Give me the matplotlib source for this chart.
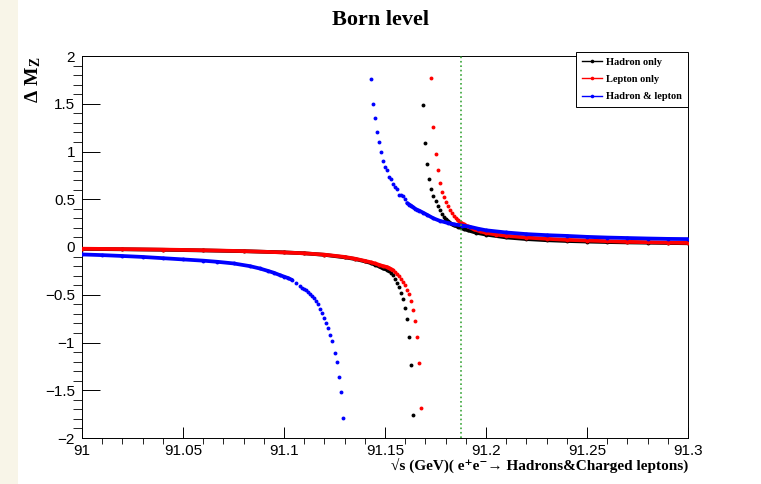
import matplotlib.pyplot as plt
from matplotlib.lines import Line2D
from matplotlib.patches import Rectangle
from matplotlib.ticker import MultipleLocator, FuncFormatter

# sqrt(s) in GeV and Delta M_Z
hadron_left_x = [91.000, 91.020, 91.040, 91.060, 91.080, 91.100, 91.110, 91.120, 91.130,
                 91.135, 91.140, 91.143, 91.145, 91.147, 91.149, 91.151, 91.152, 91.153,
                 91.154, 91.155, 91.156, 91.157, 91.158, 91.159, 91.160, 91.161, 91.162,
                 91.163, 91.164]
hadron_left_y = [-0.020, -0.024, -0.029, -0.036, -0.044, -0.056, -0.066, -0.082, -0.108,
                 -0.125, -0.150, -0.168, -0.185, -0.203, -0.225, -0.238, -0.252, -0.270,
                 -0.292, -0.330, -0.376, -0.424, -0.477, -0.544, -0.635, -0.758, -0.944,
                 -1.232, -1.758]
hadron_right_x = [91.169, 91.170, 91.171, 91.172, 91.173, 91.174, 91.175, 91.176, 91.177,
                  91.178, 91.179, 91.180, 91.181, 91.182, 91.183, 91.184, 91.186, 91.189,
                  91.191, 91.195, 91.200, 91.210, 91.220, 91.230, 91.240, 91.250, 91.260,
                  91.270, 91.280, 91.290, 91.300]
hadron_right_y = [1.484, 1.091, 0.870, 0.716, 0.607, 0.537, 0.477, 0.428, 0.386,
                  0.347, 0.316, 0.290, 0.272, 0.256, 0.240, 0.228, 0.212, 0.188,
                  0.175, 0.150, 0.130, 0.100, 0.083, 0.071, 0.063, 0.057, 0.052,
                  0.048, 0.045, 0.042, 0.039]

lepton_left_x = [91.000, 91.020, 91.040, 91.060, 91.080, 91.100, 91.110, 91.120, 91.130,
                 91.135, 91.140, 91.143, 91.145, 91.147, 91.149, 91.151, 91.152, 91.153,
                 91.154, 91.155, 91.156, 91.157, 91.158, 91.159, 91.160, 91.161, 91.162,
                 91.163, 91.164, 91.165, 91.166, 91.167, 91.168]
lepton_left_y = [-0.018, -0.022, -0.027, -0.034, -0.043, -0.057, -0.066, -0.080, -0.104,
                 -0.122, -0.145, -0.160, -0.172, -0.186, -0.200, -0.210, -0.220, -0.232,
                 -0.245, -0.262, -0.280, -0.300, -0.333, -0.368, -0.400, -0.449, -0.495,
                 -0.565, -0.660, -0.775, -0.940, -1.211, -1.681]
lepton_right_x = [91.173, 91.174, 91.175, 91.176, 91.177, 91.178, 91.179, 91.180, 91.181,
                  91.182, 91.183, 91.184, 91.185, 91.186, 91.187, 91.189, 91.191, 91.194,
                  91.197, 91.200, 91.205, 91.210, 91.220, 91.230, 91.240, 91.250, 91.260,
                  91.270, 91.280, 91.290, 91.300]
lepton_right_y = [1.765, 1.260, 0.975, 0.804, 0.674, 0.579, 0.519, 0.467, 0.425,
                  0.386, 0.351, 0.326, 0.301, 0.281, 0.263, 0.238, 0.215, 0.185,
                  0.165, 0.148, 0.130, 0.118, 0.099, 0.086, 0.075, 0.068, 0.061,
                  0.054, 0.050, 0.046, 0.042]

both_left_x = [91.000, 91.010, 91.020, 91.030, 91.040, 91.050, 91.060, 91.067, 91.075,
               91.083, 91.088, 91.092, 91.095, 91.098, 91.100, 91.102, 91.104, 91.106,
               91.108, 91.109, 91.110, 91.111, 91.112, 91.113, 91.114, 91.115, 91.116,
               91.117, 91.118, 91.119, 91.120, 91.121, 91.122, 91.123, 91.124, 91.125,
               91.126, 91.127, 91.128, 91.129]
both_left_y = [-0.078, -0.085, -0.094, -0.104, -0.117, -0.130, -0.143, -0.155, -0.172,
               -0.200, -0.225, -0.250, -0.270, -0.295, -0.310, -0.325, -0.345, -0.375,
               -0.405, -0.425, -0.440, -0.455, -0.470, -0.490, -0.510, -0.535, -0.565,
               -0.593, -0.646, -0.688, -0.740, -0.793, -0.849, -0.919, -0.986, -1.105,
               -1.207, -1.361, -1.523, -1.786]
both_right_x = [91.143, 91.144, 91.145, 91.146, 91.147, 91.148, 91.149, 91.150, 91.151,
                91.152, 91.153, 91.154, 91.155, 91.156, 91.157, 91.158, 91.159, 91.160,
                91.161, 91.162, 91.163, 91.164, 91.165, 91.166, 91.167, 91.169, 91.171,
                91.174, 91.177, 91.181, 91.184, 91.188, 91.192, 91.196, 91.200, 91.210,
                91.220, 91.230, 91.240, 91.250, 91.260, 91.270, 91.280, 91.290, 91.300]
both_right_y = [1.755, 1.502, 1.347, 1.200, 1.098, 0.997, 0.903, 0.839, 0.804,
                0.729, 0.712, 0.660, 0.632, 0.607, 0.544, 0.540, 0.537, 0.502,
                0.460, 0.445, 0.432, 0.414, 0.400, 0.389, 0.380, 0.358, 0.335,
                0.300, 0.275, 0.252, 0.238, 0.225, 0.212, 0.192, 0.175, 0.152,
                0.135, 0.124, 0.116, 0.106, 0.099, 0.094, 0.089, 0.085, 0.083]

mz = 91.1876

serif = ["Liberation Serif", "DejaVu Serif"]
plt.rcParams["font.family"] = ["Liberation Sans", "DejaVu Sans"]
plt.rcParams["mathtext.fontset"] = "custom"
plt.rcParams["mathtext.rm"] = "Liberation Serif:bold"
plt.rcParams["mathtext.it"] = "Liberation Serif:bold"
plt.rcParams["mathtext.bf"] = "Liberation Serif:bold"


def draw_branch(ax, xs, ys, color, cut, z):
    # dense part looks like a solid band, steep part as separate dots
    band = [(x, y) for x, y in zip(xs, ys) if abs(y) <= cut]
    ax.plot([p[0] for p in band], [p[1] for p in band], color=color, lw=2.7,
            solid_capstyle="round", zorder=z)
    ax.plot(xs, ys, ls="none", marker="o", ms=2.8, mew=0, mfc=color, zorder=z + 0.1)


fig = plt.figure(figsize=(7.61, 4.84), dpi=100)
# cream strip at the left edge of the screenshot
fig.patches.append(Rectangle((0, 0), 18 / 761, 1, transform=fig.transFigure,
                             facecolor="#f8f5e8", edgecolor="none", zorder=0))
ax = fig.add_axes([82 / 761, 1 - 438 / 484, 606 / 761, 382 / 484])

draw_branch(ax, hadron_left_x, hadron_left_y, "black", 0.26, 2)
draw_branch(ax, hadron_right_x, hadron_right_y, "black", 0.30, 2)
draw_branch(ax, lepton_left_x, lepton_left_y, "red", 0.26, 3)
draw_branch(ax, lepton_right_x, lepton_right_y, "red", 0.30, 3)
draw_branch(ax, both_left_x, both_left_y, "blue", 0.36, 4)
draw_branch(ax, both_right_x, both_right_y, "blue", 0.46, 4)

ax.axvline(mz, color="#3aa53a", ls=":", lw=1.2, zorder=5)

ax.set_xlim(91.0, 91.3)
ax.set_ylim(-2, 2)
ax.xaxis.set_major_locator(MultipleLocator(0.05))
ax.xaxis.set_minor_locator(MultipleLocator(0.01))
ax.yaxis.set_major_locator(MultipleLocator(0.5))
ax.yaxis.set_minor_locator(MultipleLocator(0.1))
ax.xaxis.set_major_formatter(FuncFormatter(lambda v, p: f"{v:g}"))
ax.yaxis.set_major_formatter(FuncFormatter(lambda v, p: f"{v:g}".replace("-", "\u2212")))
ax.tick_params(axis="both", direction="in", labelsize=11, width=0.7, colors="black")
ax.tick_params(axis="y", which="major", length=13, pad=5)
ax.tick_params(axis="y", which="minor", length=6.5)
ax.tick_params(axis="x", which="major", length=8, pad=4)
ax.tick_params(axis="x", which="minor", length=4)
for s in ax.spines.values():
    s.set_linewidth(0.7)

fig.text(381 / 761, 1 - 20 / 484, "Born level", family=serif, weight="bold",
         fontsize=16, ha="center", va="center")
fig.text(33 / 761, 1 - 57 / 484, r"$\Delta\ M_{Z}$", fontsize=14,
         rotation=90, ha="center", va="top")
fig.text(688 / 761, 1 - 465 / 484,
         "\u221as (GeV)( e\u207ae\u207b\u2192 Hadrons&Charged leptons)",
         family=serif, weight="bold", fontsize=11, ha="right", va="center")

handles = [Line2D([], [], color=c, lw=1, marker="o", ms=2.6, mew=0) for c in ("black", "red", "blue")]
leg = ax.legend(handles, ["Hadron only", "Lepton only", "Hadron & lepton"],
                loc="upper right", bbox_to_anchor=(688 / 761, 1 - 52 / 484),
                bbox_transform=fig.transFigure, borderaxespad=0, frameon=True,
                fancybox=False, framealpha=1, edgecolor="black", borderpad=0.55,
                labelspacing=0.75, handlelength=1.9, handletextpad=0.45,
                prop={"family": serif, "weight": "bold", "size": 7.5})
leg.get_frame().set_linewidth(0.7)
leg.set_zorder(10)

fig.savefig("out.png", dpi=100)
